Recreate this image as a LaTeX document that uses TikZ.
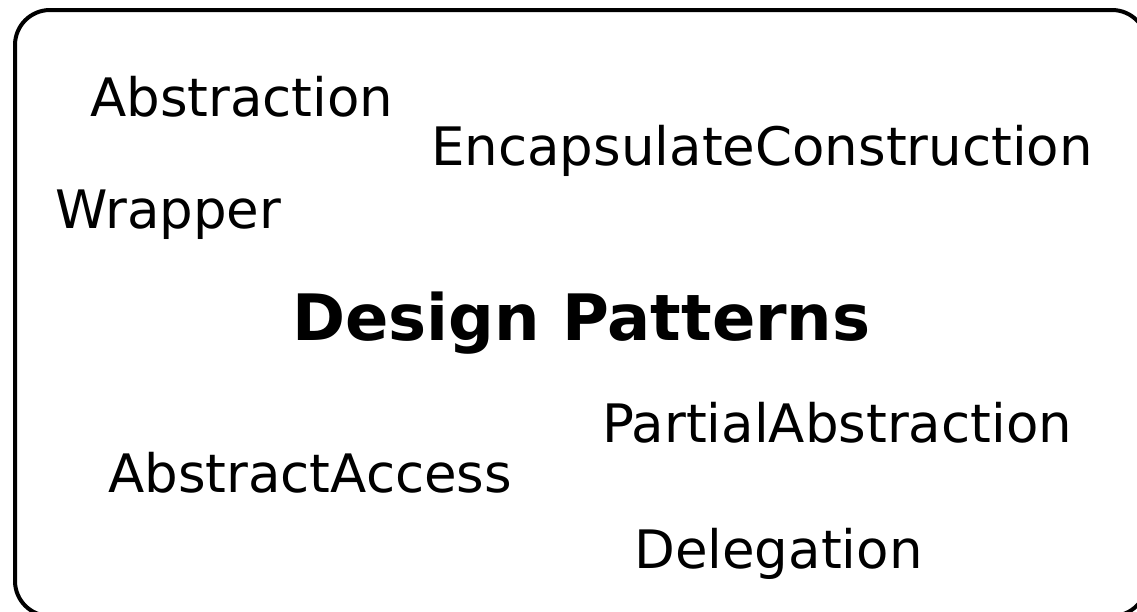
\documentclass[tikz,border=0pt]{standalone}
\usepackage{fontspec}
\setmainfont{DejaVu Sans}
\begin{document}
\begin{tikzpicture}[x=1pt,y=-1pt,
  lbl/.style={anchor=base west,inner sep=0pt,font=\fontsize{53}{60}\selectfont},
  ttl/.style={anchor=base west,inner sep=0pt,font=\fontsize{64}{72}\selectfont\bfseries},
  frame/.style={draw=black,line width=4pt,rounded corners=35pt}]
\useasboundingbox (0,0) rectangle (1137,611);
\draw[frame] (15,10) rectangle (1147,616);
\node[lbl] (abs) at (90,116) {Abstraction};
\node[lbl] (enc) at (431,165) {EncapsulateConstruction};
\node[lbl] (wrp) at (55,228) {Wrapper};
\node[ttl] (dp) at (292,340) {Design Patterns};
\node[lbl] (pa) at (602,442) {PartialAbstraction};
\node[lbl] (aa) at (108,492) {AbstractAccess};
\node[lbl] (del) at (634,568) {Delegation};
\end{tikzpicture}
\end{document}
